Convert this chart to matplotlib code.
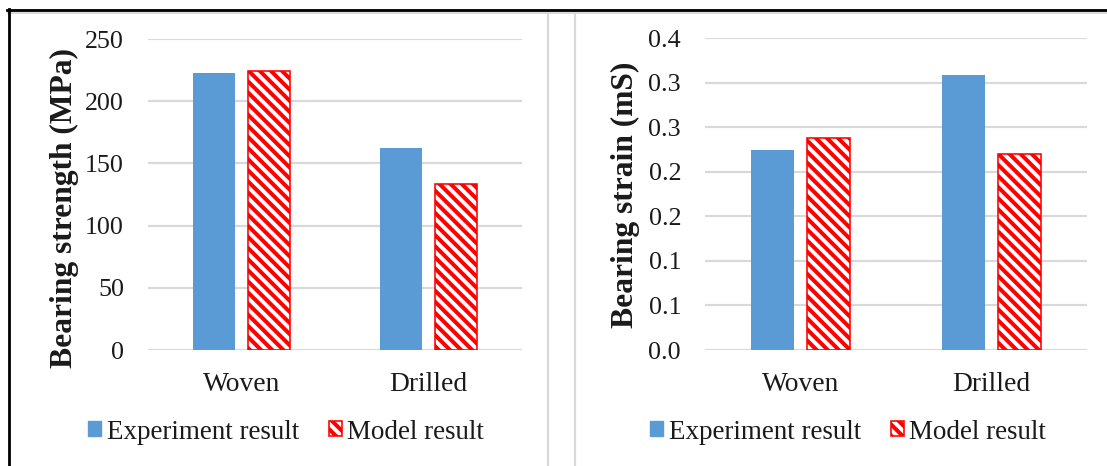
import matplotlib
matplotlib.use("Agg")
import matplotlib.pyplot as plt
from matplotlib.lines import Line2D
from matplotlib.patches import Patch
import numpy as np

# ---- data ----
categories = ["Woven", "Drilled"]
series_names = ["Experiment result", "Model result"]
strength_experiment = [222.7, 162.0]
strength_model = [224.1, 133.7]
strain_experiment = [0.224, 0.308]
strain_model = [0.238, 0.220]
strength_ticks = [0, 50, 100, 150, 200, 250]
strain_ticks = [0.0, 0.05, 0.1, 0.15, 0.2, 0.25, 0.3, 0.35]
strain_tick_labels = ["0.0", "0.1", "0.1", "0.2", "0.2", "0.3", "0.3", "0.4"]

# ---- style ----
W, H = 1107, 466
DPI = 100
def P(px):
    return px * 72.0 / DPI

BLUE = "#5b9bd5"
RED = "#ff0000"
GRID = "#d9d9d9"
TXT = "#1a1a1a"
HATCH = "\\\\\\"

plt.rcParams["font.family"] = ["Liberation Serif", "DejaVu Serif"]
plt.rcParams["hatch.linewidth"] = P(4.0)
plt.rcParams["hatch.color"] = RED

fig = plt.figure(figsize=((W + 0.01) / DPI, (H + 0.01) / DPI), dpi=DPI)
fig.patch.set_facecolor("white")

def fx(px):
    return px / W
def fy(py):
    return 1 - py / H

def make_panel(left, right, top, bottom, exp, mod, ylim, ticks, ticklabels,
               ylabel, label_x, label_y, legend_cx):
    ax = fig.add_axes([fx(left), fy(bottom), (right - left) / W, (bottom - top) / H])
    x = np.arange(len(categories))
    bw = 0.227
    off = 0.146
    ax.bar(x - off, exp, bw, color=BLUE, zorder=3, label=series_names[0])
    ax.bar(x + off, mod, bw, facecolor="white", edgecolor=RED, hatch=HATCH,
           linewidth=P(1.6), zorder=3, label=series_names[1])
    ax.set_xlim(-0.5, len(categories) - 0.5)
    ax.set_ylim(*ylim)
    ax.set_yticks(ticks)
    ax.set_yticklabels(ticklabels)
    ax.set_xticks(x)
    ax.set_xticklabels(categories)
    for s in ax.spines.values():
        s.set_visible(False)
    ax.yaxis.grid(True, color=GRID, linewidth=P(2.2), zorder=0)
    ax.set_axisbelow(True)
    ax.tick_params(axis="both", length=0, colors=TXT)
    ax.tick_params(axis="y", pad=P(24), labelsize=P(26))
    ax.tick_params(axis="x", pad=P(22), labelsize=P(27.5))
    ax.set_ylabel(ylabel, fontsize=P(31.5), fontweight="bold", color=TXT)
    ax.yaxis.set_label_coords(label_x, label_y)
    handles = [Patch(facecolor=BLUE, edgecolor=BLUE),
               Patch(facecolor="white", edgecolor=RED, hatch=HATCH, linewidth=P(1.6))]
    fig.legend(handles, series_names, loc="center",
               bbox_to_anchor=(fx(legend_cx), fy(432)), ncol=2, frameon=False,
               fontsize=P(27), handlelength=0.48, handleheight=0.48,
               handletextpad=0.22, columnspacing=1.1, borderpad=0,
               labelcolor=TXT)
    return ax

make_panel(148, 522, 39, 350, strength_experiment, strength_model, (0, 250),
           strength_ticks, [str(t) for t in strength_ticks],
           "Bearing strength (MPa)", -0.185, 0.458, 286)
make_panel(705, 1087, 38, 350, strain_experiment, strain_model, (0, 0.35),
           strain_ticks, strain_tick_labels,
           "Bearing strain (mS)", -0.17, 0.497, 848)

# ---- panel borders ----
fig.add_artist(Line2D([fx(8), fx(W)], [fy(13), fy(13)], color=GRID, linewidth=P(2)))
fig.add_artist(Line2D([fx(548), fx(548)], [fy(12), fy(H)], color=GRID, linewidth=P(2.2)))
fig.add_artist(Line2D([fx(575), fx(575)], [fy(12), fy(H)], color=GRID, linewidth=P(2.2)))
fig.add_artist(Line2D([fx(7), fx(W)], [fy(10.5), fy(10.5)], color="black", linewidth=P(2.8)))
fig.add_artist(Line2D([fx(9), fx(9)], [fy(9), fy(H)], color="black", linewidth=P(2.8)))

fig.savefig("out.png", dpi=DPI, facecolor="white")
